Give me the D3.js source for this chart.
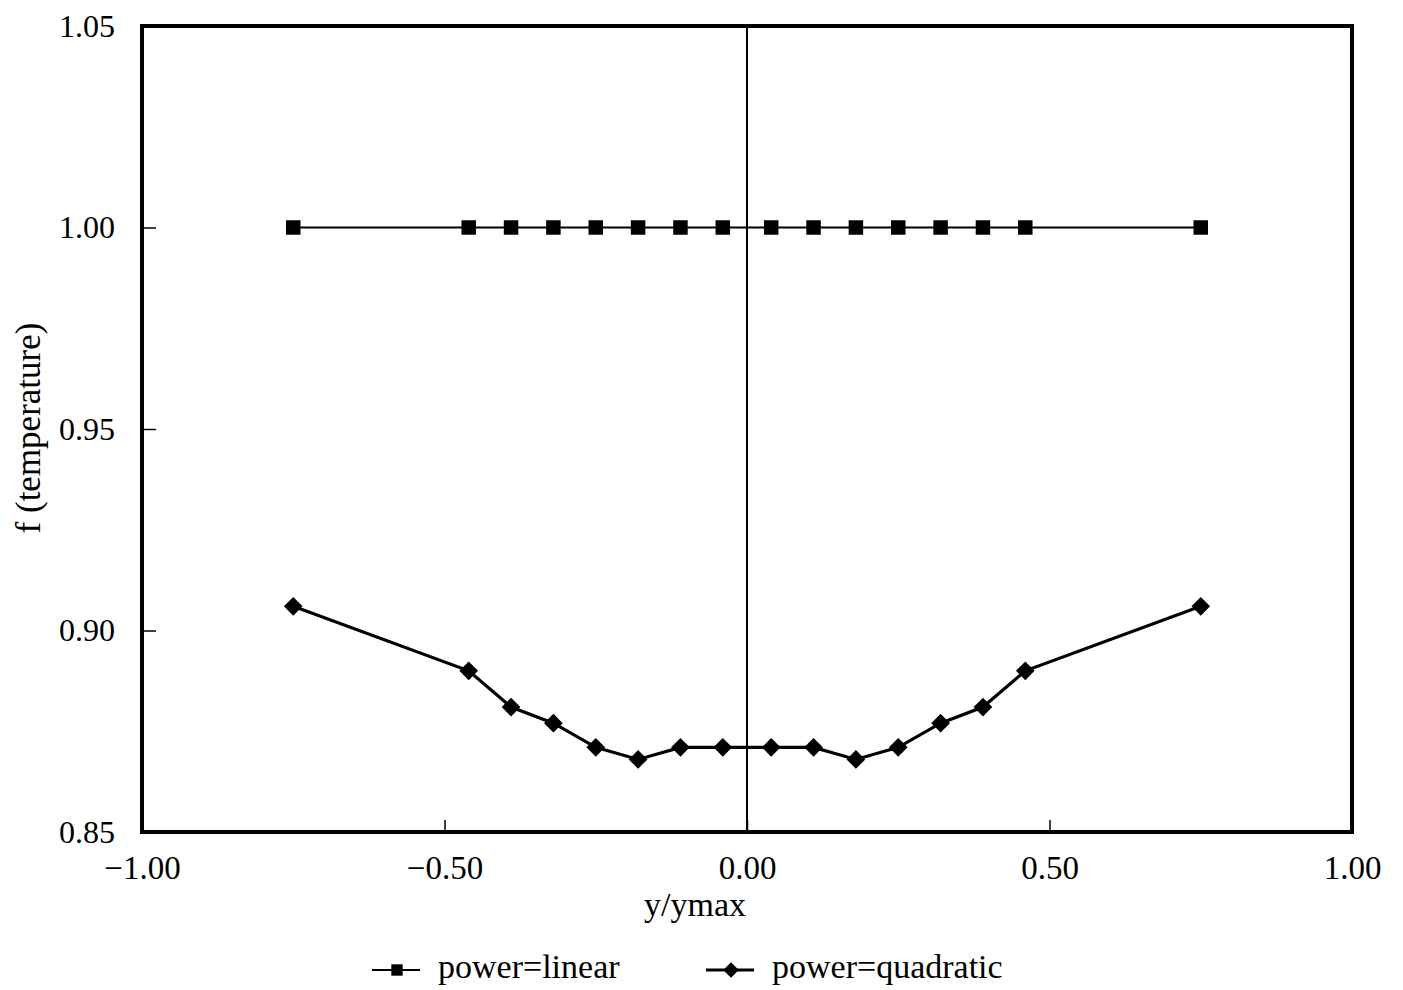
<!DOCTYPE html>
<html>
<head>
<meta charset="utf-8">
<script src="https://cdn.jsdelivr.net/npm/d3@7"></script>
<style>
  body { margin: 0; background: #fff; }
  svg { display: block; }
  text { font-family: "Liberation Serif", "Times New Roman", serif; fill: #000; }
</style>
</head>
<body>
<div id="chart"></div>
<script>
// values
var yPos = [-0.75, -0.46, -0.39, -0.32, -0.25, -0.18, -0.11, -0.04,
            0.04, 0.11, 0.18, 0.25, 0.32, 0.39, 0.46, 0.75];
var linearVals = [1.00, 1.00, 1.00, 1.00, 1.00, 1.00, 1.00, 1.00,
                  1.00, 1.00, 1.00, 1.00, 1.00, 1.00, 1.00, 1.00];
var quadVals = [0.906, 0.890, 0.881, 0.877, 0.871, 0.868, 0.871, 0.871,
                0.871, 0.871, 0.868, 0.871, 0.877, 0.881, 0.890, 0.906];
var xTicks = [-1.0, -0.5, 0.0, 0.5, 1.0];
var yTicks = [0.85, 0.90, 0.95, 1.00, 1.05];
var seriesNames = ["power=linear", "power=quadratic"];

var chart = {
    width: 1403,
    height: 990,
    left: 142,
    right: 1352,
    top: 26,
    bottom: 832
};

var svg = d3.select("#chart").append("svg")
    .attr("width", chart.width)
    .attr("height", chart.height);

var x = d3.scaleLinear().domain([-1, 1]).range([chart.left, chart.right]);
var y = d3.scaleLinear().domain([0.85, 1.05]).range([chart.bottom, chart.top]);

function minusFmt(v) {
    var s = d3.format(".2f")(Math.abs(v));
    return v < 0 ? "\u2212" + s : s;
}

// axes (ticks point inward, frame drawn separately)
var yAxis = svg.append("g")
    .attr("transform", "translate(" + chart.left + ",0)")
    .call(d3.axisLeft(y).tickValues(yTicks).tickFormat(d3.format(".2f"))
        .tickSizeInner(-14).tickSizeOuter(0).tickPadding(27));
var xAxis = svg.append("g")
    .attr("transform", "translate(0," + chart.bottom + ")")
    .call(d3.axisBottom(x).tickValues(xTicks).tickFormat(minusFmt)
        .tickSizeInner(-12).tickSizeOuter(0).tickPadding(24));

[yAxis, xAxis].forEach(function(a) {
    a.select(".domain").remove();
    a.selectAll("line").attr("stroke", "#000").attr("stroke-width", 1.5);
    a.selectAll("text").style("font-size", "32px").attr("fill", "#000");
});
xAxis.selectAll("text").style("font-size", "33px");

// zero line
svg.append("line")
    .attr("x1", x(0)).attr("x2", x(0))
    .attr("y1", chart.top).attr("y2", chart.bottom)
    .attr("stroke", "#000").attr("stroke-width", 2);

// frame
svg.append("rect")
    .attr("x", chart.left).attr("y", chart.top)
    .attr("width", chart.right - chart.left)
    .attr("height", chart.bottom - chart.top)
    .attr("fill", "none").attr("stroke", "#000").attr("stroke-width", 4);

var line = d3.line()
    .x(function(d) { return x(d[0]); })
    .y(function(d) { return y(d[1]); });

var linData = d3.zip(yPos, linearVals);
var quadData = d3.zip(yPos, quadVals);

svg.append("path").datum(linData)
    .attr("d", line).attr("fill", "none")
    .attr("stroke", "#000").attr("stroke-width", 2);
svg.append("path").datum(quadData)
    .attr("d", line).attr("fill", "none")
    .attr("stroke", "#000").attr("stroke-width", 3.2);

var square = d3.symbol().type(d3.symbolSquare).size(210);
var diamond = d3.symbol().type(d3.symbolSquare).size(175);

svg.selectAll(".sq").data(linData).enter()
    .append("path").attr("class", "sq")
    .attr("d", square)
    .attr("transform", function(d) { return "translate(" + x(d[0]) + "," + y(d[1]) + ")"; })
    .attr("fill", "#000");

svg.selectAll(".dm").data(quadData).enter()
    .append("path").attr("class", "dm")
    .attr("d", diamond)
    .attr("transform", function(d) { return "translate(" + x(d[0]) + "," + y(d[1]) + ") rotate(45)"; })
    .attr("fill", "#000");

// axis titles
svg.append("text")
    .attr("x", 695).attr("y", 916)
    .attr("text-anchor", "middle")
    .style("font-size", "34px")
    .text("y/ymax");

svg.append("text")
    .attr("transform", "translate(40,428) rotate(-90)")
    .attr("text-anchor", "middle")
    .style("font-size", "35px")
    .text("f (temperature)");

// legend
var legend = [
    { name: seriesNames[0], x0: 372, sym: square, rot: 0, sw: 2 },
    { name: seriesNames[1], x0: 706, sym: diamond, rot: 45, sw: 3 }
];
var legY = 970;
legend.forEach(function(l) {
    var g = svg.append("g");
    g.append("line")
        .attr("x1", l.x0).attr("x2", l.x0 + 48)
        .attr("y1", legY).attr("y2", legY)
        .attr("stroke", "#000").attr("stroke-width", l.sw);
    g.append("path")
        .attr("d", l.sym.size(l.rot ? 120 : 130)())
        .attr("transform", "translate(" + (l.x0 + 25) + "," + legY + ") rotate(" + l.rot + ")")
        .attr("fill", "#000");
    g.append("text")
        .attr("x", l.x0 + 66).attr("y", legY + 8)
        .style("font-size", "34px")
        .text(l.name);
});
</script>
</body>
</html>
